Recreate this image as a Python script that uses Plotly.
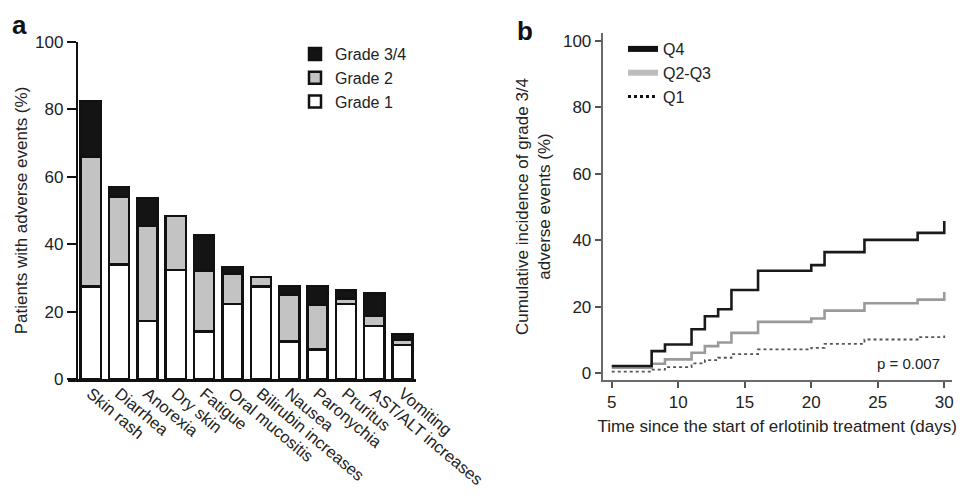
import plotly.graph_objects as go

# ---- Panel a data ----
categories = ["Skin rash", "Diarrhea", "Anorexia", "Dry skin", "Fatigue", "Oral mucositis",
              "Bilirubin increases", "Nausea", "Paronychia", "Pruritus", "AST/ALT increases", "Vomiting"]
grade1 = [27.4, 34.0, 17.2, 32.3, 14.1, 22.2, 27.4, 11.1, 8.8, 22.2, 15.8, 10.1]
grade2 = [38.6, 20.1, 28.2, 16.0, 17.9, 9.1, 2.9, 13.8, 13.1, 1.7, 2.9, 1.5]
grade34 = [16.5, 2.7, 8.3, 0.0, 10.6, 2.0, 0.0, 2.7, 5.7, 2.3, 6.6, 1.8]
y_ticks_a = [0, 20, 40, 60, 80, 100]

# ---- Panel b data ----
days = [5, 8, 9, 11, 12, 13, 14, 16, 20, 21, 24, 28, 30]
q4 = [2.1, 6.6, 8.6, 13.2, 17.1, 19.2, 25.0, 30.8, 32.5, 36.4, 40.1, 42.2, 45.8]
q23 = [1.6, 2.8, 4.1, 6.1, 8.1, 9.2, 12.1, 15.4, 16.4, 18.8, 21.0, 22.1, 24.4]
q1 = [0.4, 1.0, 1.8, 2.9, 3.9, 4.6, 5.7, 7.1, 7.6, 8.8, 10.1, 10.8, 11.3]
x_ticks_b = [5, 10, 15, 20, 25, 30]
y_ticks_b = [0, 20, 40, 60, 80, 100]

FONT = "Liberation Sans, Arial, Helvetica, sans-serif"
OFF = 8              # page body margin
W, H = 968 - OFF, 500 - OFF


def px(x):
    return (x - OFF) / W


def py(y):
    return 1 - (y - OFF) / H


fig = go.Figure()

bar_line = dict(color="#111111", width=2.5)
fig.add_trace(go.Bar(x=categories, y=grade1, name="Grade 1", width=0.71,
                     marker=dict(color="#ffffff", line=bar_line),
                     xaxis="x", yaxis="y", legend="legend"))
fig.add_trace(go.Bar(x=categories, y=grade2, name="Grade 2", width=0.71,
                     marker=dict(color="#c2c3c2", line=bar_line),
                     xaxis="x", yaxis="y", legend="legend"))
fig.add_trace(go.Bar(x=categories, y=grade34, name="Grade 3/4", width=0.71,
                     marker=dict(color="#141414", line=bar_line),
                     xaxis="x", yaxis="y", legend="legend"))

# Panel b step lines
fig.add_trace(go.Scatter(x=days, y=q1, mode="lines", line=dict(shape="hv", color="#555555", width=1.8, dash="dot"),
                         showlegend=False, xaxis="x2", yaxis="y2"))
fig.add_trace(go.Scatter(x=days, y=q23, mode="lines", line=dict(shape="hv", color="#9a9a9a", width=2.6),
                         showlegend=False, xaxis="x2", yaxis="y2"))
fig.add_trace(go.Scatter(x=days, y=q4, mode="lines", line=dict(shape="hv", color="#1a1a1a", width=2.6),
                         showlegend=False, xaxis="x2", yaxis="y2"))
# legend entries (thicker keys as in the original)
for name, col, wd, dash in [("Q4", "#111111", 6, "solid"), ("Q2-Q3", "#bdbdbd", 6, "solid"), ("Q1", "#111111", 3, "dot")]:
    fig.add_trace(go.Scatter(x=[None], y=[None], mode="lines", name=name,
                             line=dict(color=col, width=wd, dash=dash),
                             xaxis="x2", yaxis="y2", legend="legend2"))

tickfont = dict(family=FONT, size=17, color="#222222")

fig.update_layout(
    width=W, height=H,
    margin=dict(l=0, r=0, t=0, b=0, autoexpand=False),
    paper_bgcolor="white", plot_bgcolor="white",
    barmode="stack",
    font=dict(family=FONT, size=17, color="#222222"),
    xaxis=dict(domain=[px(68), px(416)], range=[-0.80, 11.47], anchor="y", automargin=False,
               showline=True, linecolor="#111111", linewidth=2.5, ticks="",
               tickangle=40, ticklabelstandoff=-4, tickfont=dict(family=FONT, size=16.5, color="#222222"),
               showgrid=False, zeroline=False, fixedrange=True),
    yaxis=dict(domain=[py(379), py(42)], range=[0, 100], anchor="free", position=px(77),
               automargin=False,
               tickvals=y_ticks_a, ticks="outside", ticklen=9, tickwidth=2.3, tickcolor="#111111",
               showline=True, linecolor="#111111", linewidth=2.3,
               showgrid=False, zeroline=False, tickfont=tickfont,
               title=dict(text="Patients with adverse events (%)", font=dict(family=FONT, size=17, color="#222222"),
                          standoff=2)),
    xaxis2=dict(domain=[px(602.7), px(951.7)], range=[4.32, 30.56], anchor="y2", automargin=False,
                tickvals=x_ticks_b, ticks="outside", ticklen=6, tickwidth=1.6, tickcolor="#555555",
                showline=True, linecolor="#6a6a6a", linewidth=2,
                showgrid=False, zeroline=False, tickfont=tickfont,
                title=dict(text="Time since the start of erlotinib treatment (days)",
                           font=dict(family=FONT, size=17, color="#222222"), standoff=9)),
    yaxis2=dict(domain=[py(380), py(33)], range=[-2.1, 102.4], anchor="x2", automargin=False,
                tickvals=y_ticks_b, ticks="outside", ticklen=6, tickwidth=1.6, tickcolor="#555555",
                showline=True, linecolor="#6a6a6a", linewidth=2,
                showgrid=False, zeroline=False, tickfont=tickfont,
                title=dict(text="Cumulative incidence of grade 3/4<br>adverse events (%)",
                           font=dict(family=FONT, size=17, color="#222222"), standoff=8)),
    legend=dict(x=px(295), y=py(37), xanchor="left", yanchor="top", traceorder="reversed",
                font=dict(family=FONT, size=16, color="#222222"), bgcolor="rgba(0,0,0,0)",
                tracegroupgap=0, itemclick=False),
    legend2=dict(x=px(623), y=py(32), xanchor="left", yanchor="top",
                 font=dict(family=FONT, size=16, color="#222222"), bgcolor="rgba(0,0,0,0)",
                 itemclick=False),
    showlegend=True,
    annotations=[
        dict(text="<b>a</b>", x=px(10), y=py(8), xref="paper", yref="paper", xanchor="left", yanchor="top",
             showarrow=False, font=dict(family=FONT, size=26, color="#111111")),
        dict(text="<b>b</b>", x=px(515), y=py(14), xref="paper", yref="paper", xanchor="left", yanchor="top",
             showarrow=False, font=dict(family=FONT, size=26, color="#111111")),
        dict(text="p = 0.007", x=27.3, y=3.0, xref="x2", yref="y2", xanchor="center", yanchor="middle",
             showarrow=False, font=dict(family=FONT, size=15, color="#222222")),
    ],
)

fig.write_html("out.html")
